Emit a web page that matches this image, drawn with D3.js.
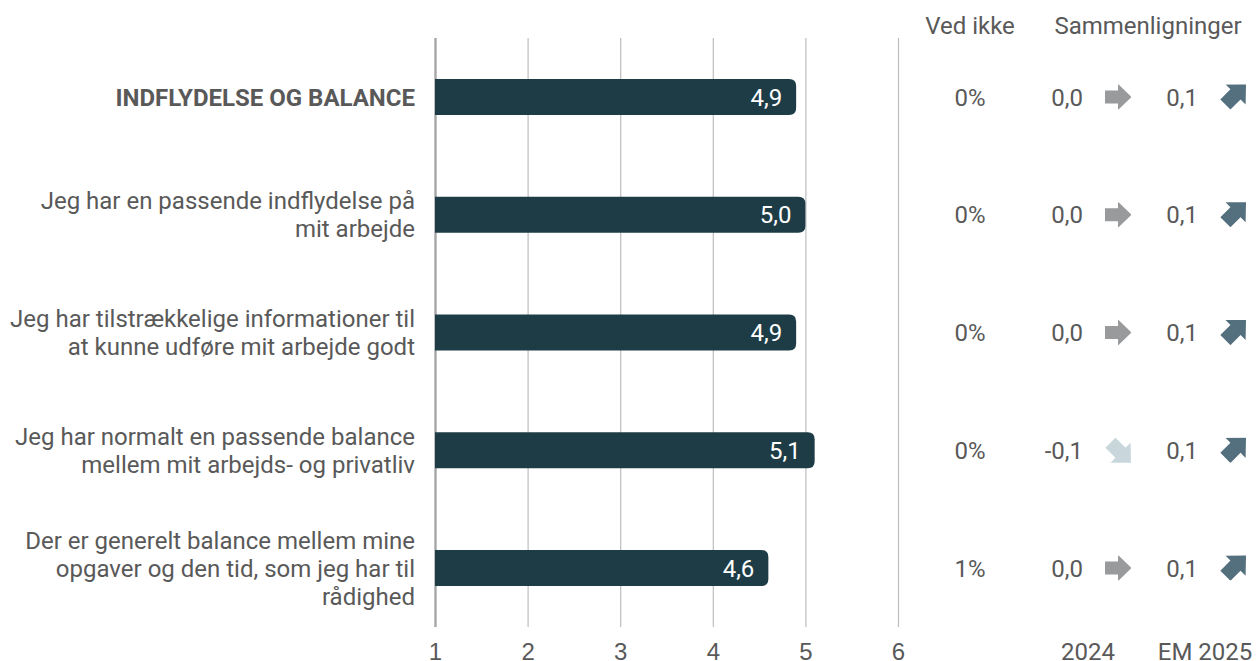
<!DOCTYPE html>
<html><head><meta charset="utf-8">
<script src="https://cdn.jsdelivr.net/npm/d3@7"></script>
<style>html,body{margin:0;padding:0;background:#fff;}svg{display:block;font-family:Roboto,"Noto Sans",sans-serif;}</style>
</head><body>
<svg id="chart" width="1260" height="661"></svg>
<script>
const categories = [
  ["INDFLYDELSE OG BALANCE"],
  ["Jeg har en passende indflydelse på", "mit arbejde"],
  ["Jeg har tilstrækkelige informationer til", "at kunne udføre mit arbejde godt"],
  ["Jeg har normalt en passende balance", "mellem mit arbejds- og privatliv"],
  ["Der er generelt balance mellem mine", "opgaver og den tid, som jeg har til", "rådighed"]
];
const boldRow = [true, false, false, false, false];
const values = [4.9, 5.0, 4.9, 5.1, 4.6];
const vedIkke = ["0%", "0%", "0%", "0%", "1%"];
const cmp2024 = [0.0, 0.0, 0.0, -0.1, 0.0];
const cmpEM2025 = [0.1, 0.1, 0.1, 0.1, 0.1];
const xTicks = [1, 2, 3, 4, 5, 6];
const colHeaders = ["Ved ikke", "Sammenligninger"];
const colFooters = ["2024", "EM 2025"];

const svg = d3.select("#chart");
const textCol = "#595959";
const fs = 24;
const fmt = v => d3.format(".1f")(v).replace(".", ",").replace("−", "-");

const x = d3.scaleLinear().domain([1, 6]).range([435, 898]);
const y = d3.scaleBand().domain(d3.range(categories.length)).range([38, 627])
  .paddingInner(0.694).paddingOuter(0.347);

// gridlines
const grid = d3.axisBottom(x).tickValues(xTicks).tickSize(-(627 - 38)).tickFormat(d => d);
const gAx = svg.append("g").attr("transform", "translate(0,627)").call(grid);
gAx.select(".domain").remove();
gAx.selectAll(".tick line").attr("stroke", "#bdbdbd").attr("stroke-width", 1.2);
gAx.selectAll(".tick text").attr("fill", textCol).attr("font-size", fs).attr("dy", "0.36em").attr("y", 24);
gAx.selectAll(".tick").filter(d => d === 1).select("line").attr("stroke", "#a6a6a6").attr("stroke-width", 2.4);

// bars with rounded right end
const r = 7;
svg.append("g").selectAll("path").data(values).join("path")
  .attr("fill", "#1e3c46")
  .attr("d", (v, i) => {
    const x0 = x(1), x1 = x(v), y0 = y(i), h = y.bandwidth();
    return `M${x0},${y0}H${x1 - r}Q${x1},${y0} ${x1},${y0 + r}V${y0 + h - r}Q${x1},${y0 + h} ${x1 - r},${y0 + h}H${x0}Z`;
  });
svg.append("g").selectAll("text").data(values).join("text")
  .attr("x", v => x(v) - 14).attr("y", (v, i) => y(i) + y.bandwidth() / 2)
  .attr("dy", "0.36em").attr("text-anchor", "end").attr("fill", "#fff").attr("font-size", fs)
  .text(v => fmt(v));

// category labels
const lab = svg.append("g").selectAll("text").data(categories).join("text")
  .attr("text-anchor", "end").attr("fill", textCol).attr("font-size", fs)
  .attr("font-weight", (d, i) => boldRow[i] ? "bold" : "normal");
lab.each(function(lines, i) {
  const cy = y(i) + y.bandwidth() / 2;
  const lh = 28;
  const start = cy - (lines.length - 1) * lh / 2;
  d3.select(this).selectAll("tspan").data(lines).join("tspan")
    .attr("x", 415).attr("y", (d, k) => start + k * lh).attr("dy", "0.36em").text(d => d);
});

// column headers / footers
function t(xx, yy, s, anchor) {
  svg.append("text").attr("x", xx).attr("y", yy).attr("dy", "0.36em").attr("text-anchor", anchor || "middle")
    .attr("fill", textCol).attr("font-size", fs).text(s);
}
t(970, 25, colHeaders[0]);
t(1148, 25, colHeaders[1]);
t(1088, 651, colFooters[0]);
t(1205, 651, colFooters[1]);

const cy = i => y(i) + y.bandwidth() / 2;
svg.append("g").selectAll("text").data(vedIkke).join("text")
  .attr("x", 970).attr("y", (d, i) => cy(i)).attr("dy", "0.36em").attr("text-anchor", "middle")
  .attr("fill", textCol).attr("font-size", fs).text(d => d);
svg.append("g").selectAll("text").data(cmp2024).join("text")
  .attr("x", 1083).attr("y", (d, i) => cy(i)).attr("dy", "0.36em").attr("text-anchor", "end")
  .attr("fill", textCol).attr("font-size", fs).text(d => fmt(d));
svg.append("g").selectAll("text").data(cmpEM2025).join("text")
  .attr("x", 1198).attr("y", (d, i) => cy(i)).attr("dy", "0.36em").attr("text-anchor", "end")
  .attr("fill", textCol).attr("font-size", fs).text(d => fmt(d));

// arrows
const defs = svg.append("defs");
const arrowPath = "M-13,-6.5H0V-13L13.5,0L0,13V6.5H-13Z";
function arrow(cx, cyy, v, id) {
  let angle = 0, col = "#989a9c", s = 1, dx = 0, dy = 0;
  if (v > 0.05) { angle = -45; col = "#546f7d"; s = 1.1; dx = 2.5; dy = -2.5; }
  else if (v < -0.05) { angle = 45; col = "#c9d7dd"; s = 1.1; dx = 2.5; dy = 2.5; }
  defs.append("clipPath").attr("id", id).append("rect")
    .attr("x", cx - 13).attr("y", cyy - 12.5).attr("width", 26).attr("height", 25);
  svg.append("g").attr("clip-path", `url(#${id})`)
    .append("path").attr("d", arrowPath).attr("fill", col)
    .attr("transform", `translate(${cx + dx},${cyy + dy}) rotate(${angle}) scale(${s})`);
}
cmp2024.forEach((v, i) => arrow(1118, cy(i), v, "a1_" + i));
cmpEM2025.forEach((v, i) => arrow(1233, cy(i), v, "a2_" + i));
</script>
</body></html>
